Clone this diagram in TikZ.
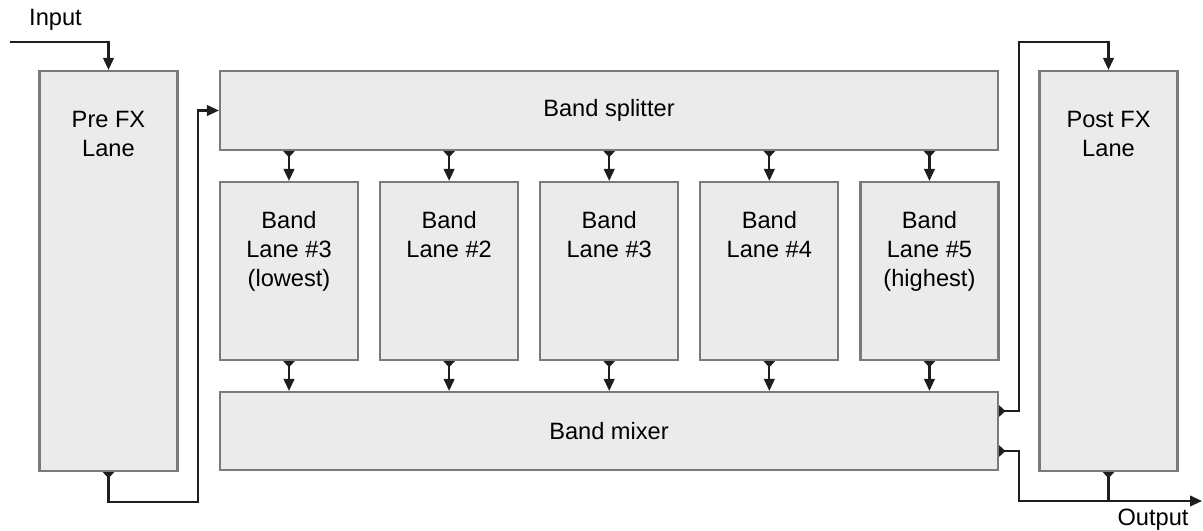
\documentclass[tikz,border=0pt]{standalone}
\usepackage{fontspec}
\setmainfont{Liberation Sans}
\usetikzlibrary{arrows.meta,positioning,calc}
\newlength\unitpx
\setlength\unitpx{0.025cm}
\newcommand\lanefont{\fontsize{16.8}{20.6}\selectfont}
\definecolor{boxfill}{HTML}{EBEBEB}
\definecolor{boxline}{HTML}{7A7A7A}
\definecolor{wire}{HTML}{1E1E1E}

\begin{document}
\begin{tikzpicture}[x=1\unitpx, y=-1\unitpx,
    box/.style={draw=boxline, fill=boxfill, line width=1.5pt, inner sep=0pt, font=\lanefont},
    lbl/.style={font=\lanefont, align=center, inner sep=0pt},
    wirearrow/.style={draw=wire, line width=1.5pt, -{Triangle[length=8.5pt,width=7.5pt]}},
    portarrow/.style={draw=wire, line width=1.5pt, {Triangle[reversed,length=4.5pt,width=8pt]}-{Triangle[length=8.5pt,width=7.5pt]}},
    portonly/.style={draw=wire, line width=1.5pt, {Triangle[reversed,length=4.5pt,width=8pt]}-}]
    \useasboundingbox (0,0) rectangle (1203,531);

    % Pre and post effect lanes
    \node[box, minimum width=138\unitpx, minimum height=400\unitpx] (pre) at (108.5,271) {};
    \node[box, minimum width=138\unitpx, minimum height=400\unitpx] (post) at (1108.5,271) {};
    \node[lbl, anchor=north] (pretxt) at ($(pre.north)+(0,41)$) {Pre FX\\Lane};
    \node[lbl, anchor=north] (posttxt) at ($(post.north)+(0,41)$) {Post FX\\Lane};

    % Band splitter and band mixer
    \node[box, minimum width=778\unitpx, minimum height=79\unitpx] (split) at (609,110.5) {Band splitter};
    \node[box, minimum width=778\unitpx, minimum height=78\unitpx] (mix) at (609,431) {Band mixer};

    % The five band lanes
    \node[box, minimum width=138\unitpx, minimum height=178\unitpx] (lane1) at (289,271) {};
    \node[box, minimum width=138\unitpx, minimum height=178\unitpx, right=20\unitpx of lane1] (lane2) {};
    \node[box, minimum width=138\unitpx, minimum height=178\unitpx, right=20\unitpx of lane2] (lane3) {};
    \node[box, minimum width=138\unitpx, minimum height=178\unitpx, right=20\unitpx of lane3] (lane4) {};
    \node[box, minimum width=138\unitpx, minimum height=178\unitpx, right=20\unitpx of lane4] (lane5) {};
    \node[lbl, anchor=north] (lane1txt) at ($(lane1.north)+(0,30)$) {Band\\Lane \#3\\(lowest)};
    \node[lbl, anchor=north] (lane2txt) at ($(lane2.north)+(0,30)$) {Band\\Lane \#2};
    \node[lbl, anchor=north] (lane3txt) at ($(lane3.north)+(0,30)$) {Band\\Lane \#3};
    \node[lbl, anchor=north] (lane4txt) at ($(lane4.north)+(0,30)$) {Band\\Lane \#4};
    \node[lbl, anchor=north] (lane5txt) at ($(lane5.north)+(0,30)$) {Band\\Lane \#5\\(highest)};

    % Input into the pre lane, then on to the splitter
    \coordinate (inport) at (10,42);
    \node[lbl] (intxt) at (55.5,20) {Input};
    \draw[wirearrow] (inport) -| (pre.north);
    \draw[portarrow] (pre.south) -- ++(0,30) -| ($(split.west)+(-21,0)$) -- (split.west);

    % Splitter -> band lanes -> mixer
    \draw[portarrow] (split.south -| lane1) -- (lane1.north);
    \draw[portarrow] (split.south -| lane2) -- (lane2.north);
    \draw[portarrow] (split.south -| lane3) -- (lane3.north);
    \draw[portarrow] (split.south -| lane4) -- (lane4.north);
    \draw[portarrow] (split.south -| lane5) -- (lane5.north);
    \draw[portarrow] (lane1.south) -- (lane1.south |- mix.north);
    \draw[portarrow] (lane2.south) -- (lane2.south |- mix.north);
    \draw[portarrow] (lane3.south) -- (lane3.south |- mix.north);
    \draw[portarrow] (lane4.south) -- (lane4.south |- mix.north);
    \draw[portarrow] (lane5.south) -- (lane5.south |- mix.north);

    % Mixer into the post lane, and out
    \coordinate (outport) at (1202,501);
    \node[lbl] (outtxt) at (1153,520) {Output};
    \draw[portarrow] ($(mix.east)+(0,-20)$) -| (1019,42) -| (post.north);
    \draw[portarrow] ($(mix.east)+(0,20)$) -| (1019,501) -- (outport);
    \draw[portonly] (post.south) -- (post.south |- outport);
\end{tikzpicture}
\end{document}
